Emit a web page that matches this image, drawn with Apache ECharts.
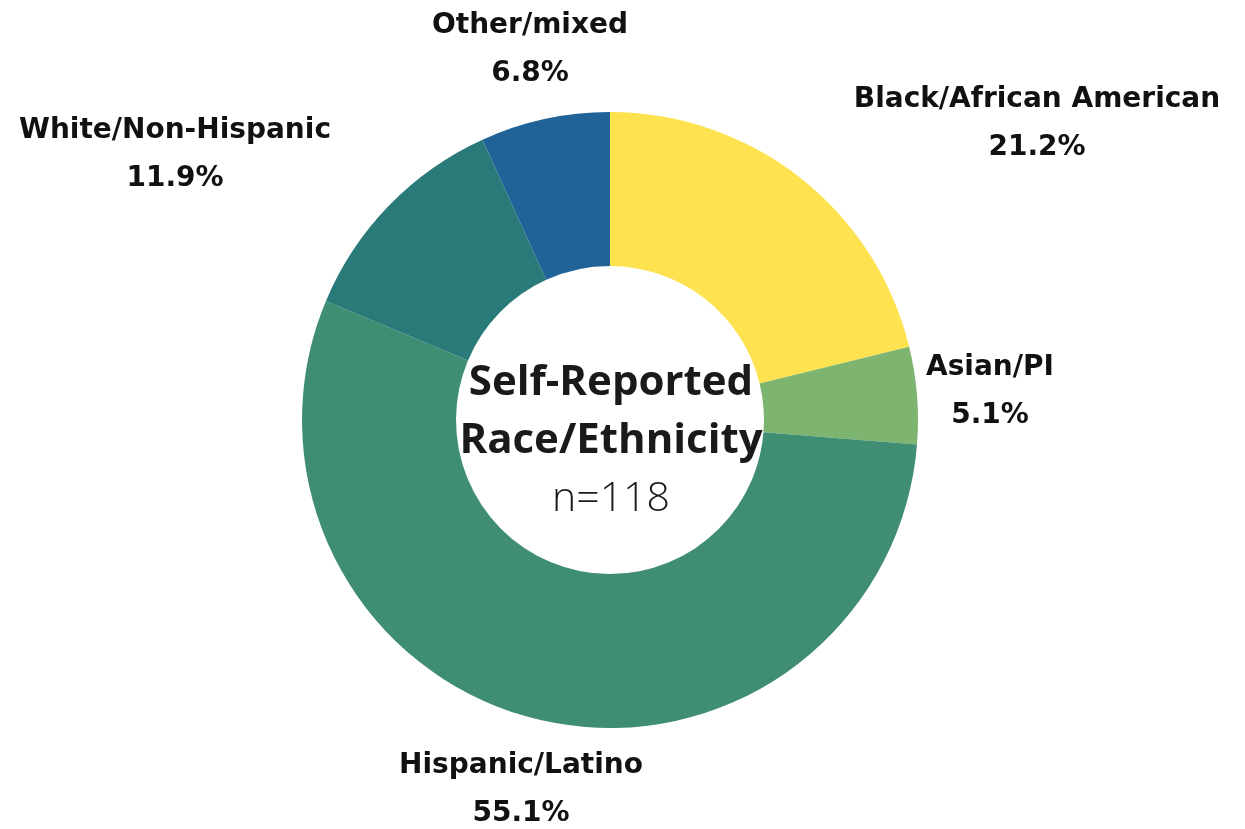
<!DOCTYPE html>
<html>
<head>
<meta charset="utf-8">
<script src="https://cdn.jsdelivr.net/npm/echarts@6/dist/echarts.min.js"></script>
<style>html,body{margin:0;padding:0;background:#fff;}#c{width:1245px;height:829px;}</style>
</head>
<body>
<div id="c"></div>
<script>
const categories = ['Black/African American', 'Asian/PI', 'Hispanic/Latino', 'White/Non-Hispanic', 'Other/mixed'];
const values = [21.2, 5.1, 55.1, 11.9, 6.8];
const colors = ['#FEE24F', '#7DB46F', '#3F8E74', '#297A78', '#1F6398'];
const centerTitle = ['Self-Reported', 'Race/Ethnicity'];
const centerSub = 'n=118';
// label anchor positions (layout only)
const labelPos = [[1037, 124], [990, 392], [521, 790], [175, 155], [530, 50]];

const chart = echarts.init(document.getElementById('c'));
chart.setOption({
  backgroundColor: '#ffffff',
  animation: false,
  graphic: [{
    type: 'text',
    x: 611,
    y: 354,
    style: {
      text: '{b|' + centerTitle[0] + '}\n{b|' + centerTitle[1] + '}\n{n|' + centerSub + '}',
      align: 'center',
      verticalAlign: 'top',
      rich: {
        b: { fontFamily: '"Open Sans"', fontWeight: 700, fontSize: 42, lineHeight: 58, fill: '#1a1a1a', align: 'center' },
        n: { fontFamily: '"Open Sans"', fontWeight: 300, fontSize: 41, lineHeight: 58, fill: '#1a1a1a', align: 'center' }
      }
    }
  }],
  series: [{
    type: 'pie',
    center: [610, 420],
    radius: [154, 308],
    startAngle: 90,
    clockwise: true,
    data: categories.map((c, i) => ({ name: c, value: values[i], itemStyle: { color: colors[i] } })),
    itemStyle: { borderWidth: 0 },
    label: {
      show: true,
      formatter: p => p.name + '\n' + p.value.toFixed(1) + '%',
      fontFamily: 'DejaVu Sans',
      fontWeight: 'bold',
      fontSize: 28,
      lineHeight: 48,
      color: '#111',
      align: 'center'
    },
    labelLine: { show: false },
    labelLayout: function (params) {
      const p = labelPos[params.dataIndex];
      return { x: p[0], y: p[1], align: 'center', verticalAlign: 'middle' };
    }
  }]
});
</script>
</body>
</html>
